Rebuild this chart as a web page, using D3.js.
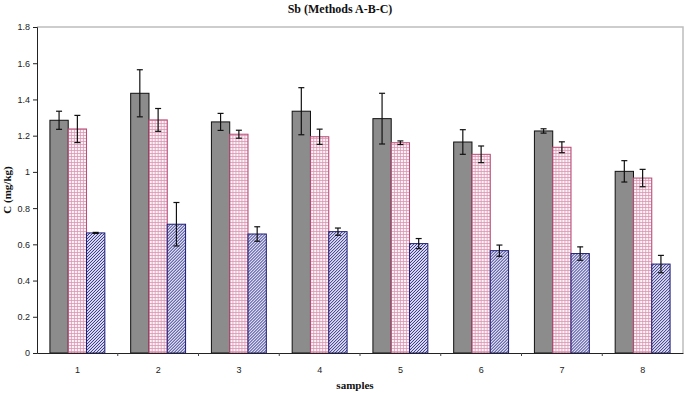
<!DOCTYPE html>
<html>
<head>
<meta charset="utf-8">
<script src="https://cdn.jsdelivr.net/npm/d3@7"></script>
<style>
  body { margin: 0; background: #fff; }
  .tick text { font-family: "Liberation Sans", Arial, sans-serif; font-size: 9px; fill: #222; }
  .lbl { font-family: "Liberation Serif", "Times New Roman", serif; font-weight: bold; font-size: 11px; fill: #111; }
</style>
</head>
<body>
<script>
// data
const samples = ["1", "2", "3", "4", "5", "6", "7", "8"]
const methods = ["A", "B", "C"]
const valA = [1.285, 1.434, 1.276, 1.335, 1.294, 1.165, 1.226, 1.003]
const errA = [0.050, 0.130, 0.047, 0.130, 0.140, 0.068, 0.012, 0.059]
const valB = [1.237, 1.287, 1.208, 1.194, 1.161, 1.097, 1.136, 0.966]
const errB = [0.075, 0.063, 0.022, 0.042, 0.010, 0.046, 0.030, 0.048]
const valC = [0.663, 0.711, 0.657, 0.670, 0.604, 0.565, 0.549, 0.491]
const errC = [0.003, 0.120, 0.040, 0.020, 0.028, 0.031, 0.037, 0.048]
const yTicks = [0, 0.2, 0.4, 0.6, 0.8, 1, 1.2, 1.4, 1.6, 1.8]

const width = 685, height = 393
const margin = {top: 27, right: 2, bottom: 40, left: 37}
const w = width - margin.left - margin.right
const h = height - margin.top - margin.bottom

const svg = d3.select("body").append("svg")
  .attr("width", width).attr("height", height)

// fill patterns
const defs = svg.append("defs")
const grid = defs.append("pattern").attr("id", "grid")
  .attr("patternUnits", "userSpaceOnUse").attr("width", 3).attr("height", 3)
grid.append("rect").attr("width", 3).attr("height", 3).attr("fill", "#fdf3f6")
grid.append("path").attr("d", "M0,0.5H3M0.5,0V3")
  .attr("stroke", "#d996b2").attr("stroke-width", 0.8)

const hatch = defs.append("pattern").attr("id", "hatch")
  .attr("patternUnits", "userSpaceOnUse").attr("width", 3).attr("height", 3)
hatch.append("rect").attr("width", 3).attr("height", 3).attr("fill", "#dcdcf2")
hatch.append("path").attr("d", "M-1,1L1,-1M0,3L3,0M2,4L4,2")
  .attr("stroke", "#30308a").attr("stroke-width", 1)

const fills = ["#8c8c8c", "url(#grid)", "url(#hatch)"]
const strokes = ["#111", "#b84a74", "#1c1c78"]

const rows = samples.map((s, i) => ({
  sample: s,
  bars: [
    {m: "A", v: valA[i], e: errA[i]},
    {m: "B", v: valB[i], e: errB[i]},
    {m: "C", v: valC[i], e: errC[i]}
  ]
}))

const chart = svg.append("g")
  .attr("transform", "translate(" + margin.left + "," + margin.top + ")")

const x = d3.scaleBand().domain(samples).range([0, w]).paddingInner(0.32).paddingOuter(0.16)
const xm = d3.scaleBand().domain(methods).range([0, x.bandwidth()])
const y = d3.scaleLinear().domain([0, 1.8]).range([h, 0])

// frame: gray top and right
chart.append("path")
  .attr("d", "M0,0H" + w + "V" + h)
  .attr("fill", "none").attr("stroke", "#bdbdbd").attr("stroke-width", 1.5)

const groups = chart.selectAll(".grp")
  .data(rows).enter().append("g")
  .attr("class", "grp")
  .attr("transform", d => "translate(" + x(d.sample) + ",0)")

groups.selectAll("rect")
  .data(d => d.bars).enter().append("rect")
  .attr("x", d => xm(d.m))
  .attr("y", d => y(d.v))
  .attr("width", xm.bandwidth())
  .attr("height", d => h - y(d.v))
  .attr("fill", (d, i) => fills[i])
  .attr("stroke", (d, i) => strokes[i])
  .attr("stroke-width", 1)

// error bars
const eb = groups.selectAll(".err")
  .data(d => d.bars).enter().append("g").attr("class", "err")
  .attr("stroke", "#111").attr("stroke-width", 1.2)
eb.append("line")
  .attr("x1", d => xm(d.m) + xm.bandwidth() / 2)
  .attr("x2", d => xm(d.m) + xm.bandwidth() / 2)
  .attr("y1", d => y(d.v + d.e)).attr("y2", d => y(d.v - d.e))
eb.append("line")
  .attr("x1", d => xm(d.m) + xm.bandwidth() / 2 - 3)
  .attr("x2", d => xm(d.m) + xm.bandwidth() / 2 + 3)
  .attr("y1", d => y(d.v + d.e)).attr("y2", d => y(d.v + d.e))
eb.append("line")
  .attr("x1", d => xm(d.m) + xm.bandwidth() / 2 - 3)
  .attr("x2", d => xm(d.m) + xm.bandwidth() / 2 + 3)
  .attr("y1", d => y(d.v - d.e)).attr("y2", d => y(d.v - d.e))

// axes
const yAxis = chart.append("g")
  .call(d3.axisLeft(y).tickValues(yTicks).tickSize(4).tickPadding(3)
    .tickFormat(d => d === 0 || d === 1 ? d : d3.format(".1f")(d)))
yAxis.select(".domain").attr("stroke", "#222")
yAxis.selectAll(".tick line").attr("stroke", "#222")

const xAxis = chart.append("g")
  .attr("transform", "translate(0," + h + ")")
  .call(d3.axisBottom(x).tickSize(0).tickPadding(14))
xAxis.select(".domain").attr("stroke", "#222").attr("stroke-width", 1.2)

// ticks between the groups
const step = x.step()
chart.append("g").selectAll("line")
  .data(samples.slice(1)).enter().append("line")
  .attr("x1", d => x(d) - step * x.paddingInner() / 2)
  .attr("x2", d => x(d) - step * x.paddingInner() / 2)
  .attr("y1", h).attr("y2", h + 3)
  .attr("stroke", "#444")

// labels
svg.append("text").attr("class", "lbl")
  .attr("x", 340).attr("y", 13).attr("text-anchor", "middle")
  .style("font-size", "12px")
  .text("Sb (Methods A-B-C)")

svg.append("text").attr("class", "lbl")
  .attr("x", 355).attr("y", 389).attr("text-anchor", "middle")
  .text("samples")

svg.append("text").attr("class", "lbl")
  .attr("transform", "translate(11," + (margin.top + h / 2) + ") rotate(-90)")
  .attr("text-anchor", "middle")
  .text("C (mg/kg)")
</script>
</body>
</html>
